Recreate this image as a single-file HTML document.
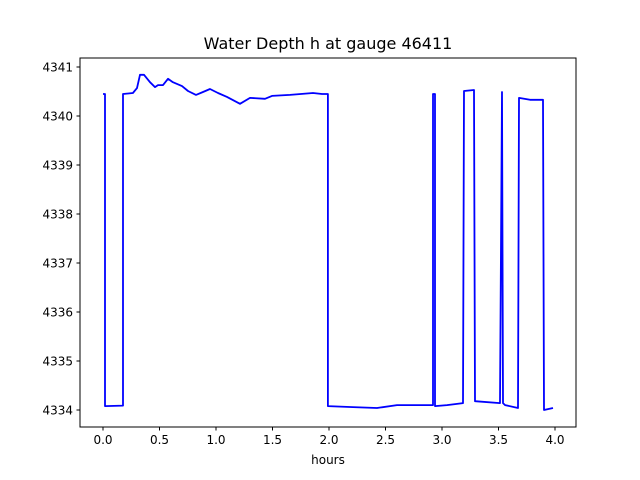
<!DOCTYPE html>
<html><head><meta charset="utf-8"><style>
body{margin:0;background:#fff;}
svg{display:block;font-family:"DejaVu Sans","Liberation Sans",sans-serif;}
</style></head><body>
<svg id="chart" width="640" height="480">
<rect x="0" y="0" width="640" height="480" fill="#fff"/>
<text x="328" y="49" font-size="16" text-anchor="middle">Water Depth h at gauge 46411</text>
<g id="xt"></g>
<g id="yt"></g>
<path id="series" fill="none" stroke="#0000ff" stroke-width="1.8" stroke-linejoin="round"/>
<rect x="80" y="58" width="496" height="369" fill="none" stroke="#000" stroke-width="1"/>
<text x="328" y="464" font-size="12" text-anchor="middle">hours</text>
</svg>
<script>
const hours=[0,0.018,0.018,0.177,0.177,0.265,0.301,0.327,0.363,0.416,0.46,0.487,0.531,0.575,0.619,0.699,0.752,0.823,0.885,0.947,1.018,1.097,1.212,1.301,1.434,1.496,1.655,1.858,1.938,1.99,1.99,2.212,2.425,2.602,2.717,2.912,2.92,2.92,2.938,2.938,3.044,3.186,3.195,3.283,3.292,3.513,3.531,3.54,3.558,3.673,3.681,3.779,3.894,3.903,3.982];
const depth=[4340.45,4340.45,4334.08,4334.09,4340.45,4340.47,4340.57,4340.84,4340.84,4340.69,4340.59,4340.63,4340.63,4340.76,4340.69,4340.61,4340.51,4340.43,4340.49,4340.55,4340.47,4340.39,4340.25,4340.37,4340.35,4340.41,4340.43,4340.47,4340.45,4340.45,4334.08,4334.06,4334.04,4334.10,4334.10,4334.10,4334.10,4340.45,4340.45,4334.08,4334.10,4334.14,4340.51,4340.53,4334.18,4334.14,4340.49,4334.14,4334.10,4334.04,4340.37,4340.33,4340.33,4334.0,4334.04];
const xTicks=[0,0.5,1,1.5,2,2.5,3,3.5,4];
const xTickLabels=["0.0","0.5","1.0","1.5","2.0","2.5","3.0","3.5","4.0"];
const yTicks=[4334,4335,4336,4337,4338,4339,4340,4341];
const yTickLabels=["4334","4335","4336","4337","4338","4339","4340","4341"];
const X=h=>103+113*h;
const Y=v=>410-49*(v-4334);
const ns="http://www.w3.org/2000/svg";
let d="";
for(let i=0;i<hours.length;i++){d+=(i?"L":"M")+X(hours[i]).toFixed(1)+" "+Y(depth[i]).toFixed(1);}
document.getElementById("series").setAttribute("d",d);
const xt=document.getElementById("xt");
xTicks.forEach((t,i)=>{
 const l=document.createElementNS(ns,"line");
 
 
 l.setAttribute("x1",X(t));l.setAttribute("x2",X(t));l.setAttribute("y1",427);l.setAttribute("y2",430.5);l.setAttribute("stroke","#000");
 xt.appendChild(l);
 const s=document.createElementNS(ns,"text");
 
 
 s.setAttribute("x",X(t));s.setAttribute("y",444);s.setAttribute("font-size","12");s.setAttribute("text-anchor","middle");
 s.textContent=xTickLabels[i];xt.appendChild(s);
});
const yt=document.getElementById("yt");
yTicks.forEach((t,i)=>{
 const l=document.createElementNS(ns,"line");
 
 
 l.setAttribute("x1",76.5);l.setAttribute("x2",80);l.setAttribute("y1",Y(t));l.setAttribute("y2",Y(t));l.setAttribute("stroke","#000");
 yt.appendChild(l);
 const s=document.createElementNS(ns,"text");
 
 
 s.setAttribute("x",73);s.setAttribute("y",Y(t)+4.5);s.setAttribute("font-size","12");s.setAttribute("text-anchor","end");
 s.textContent=yTickLabels[i];yt.appendChild(s);
});
</script>
</body></html>
